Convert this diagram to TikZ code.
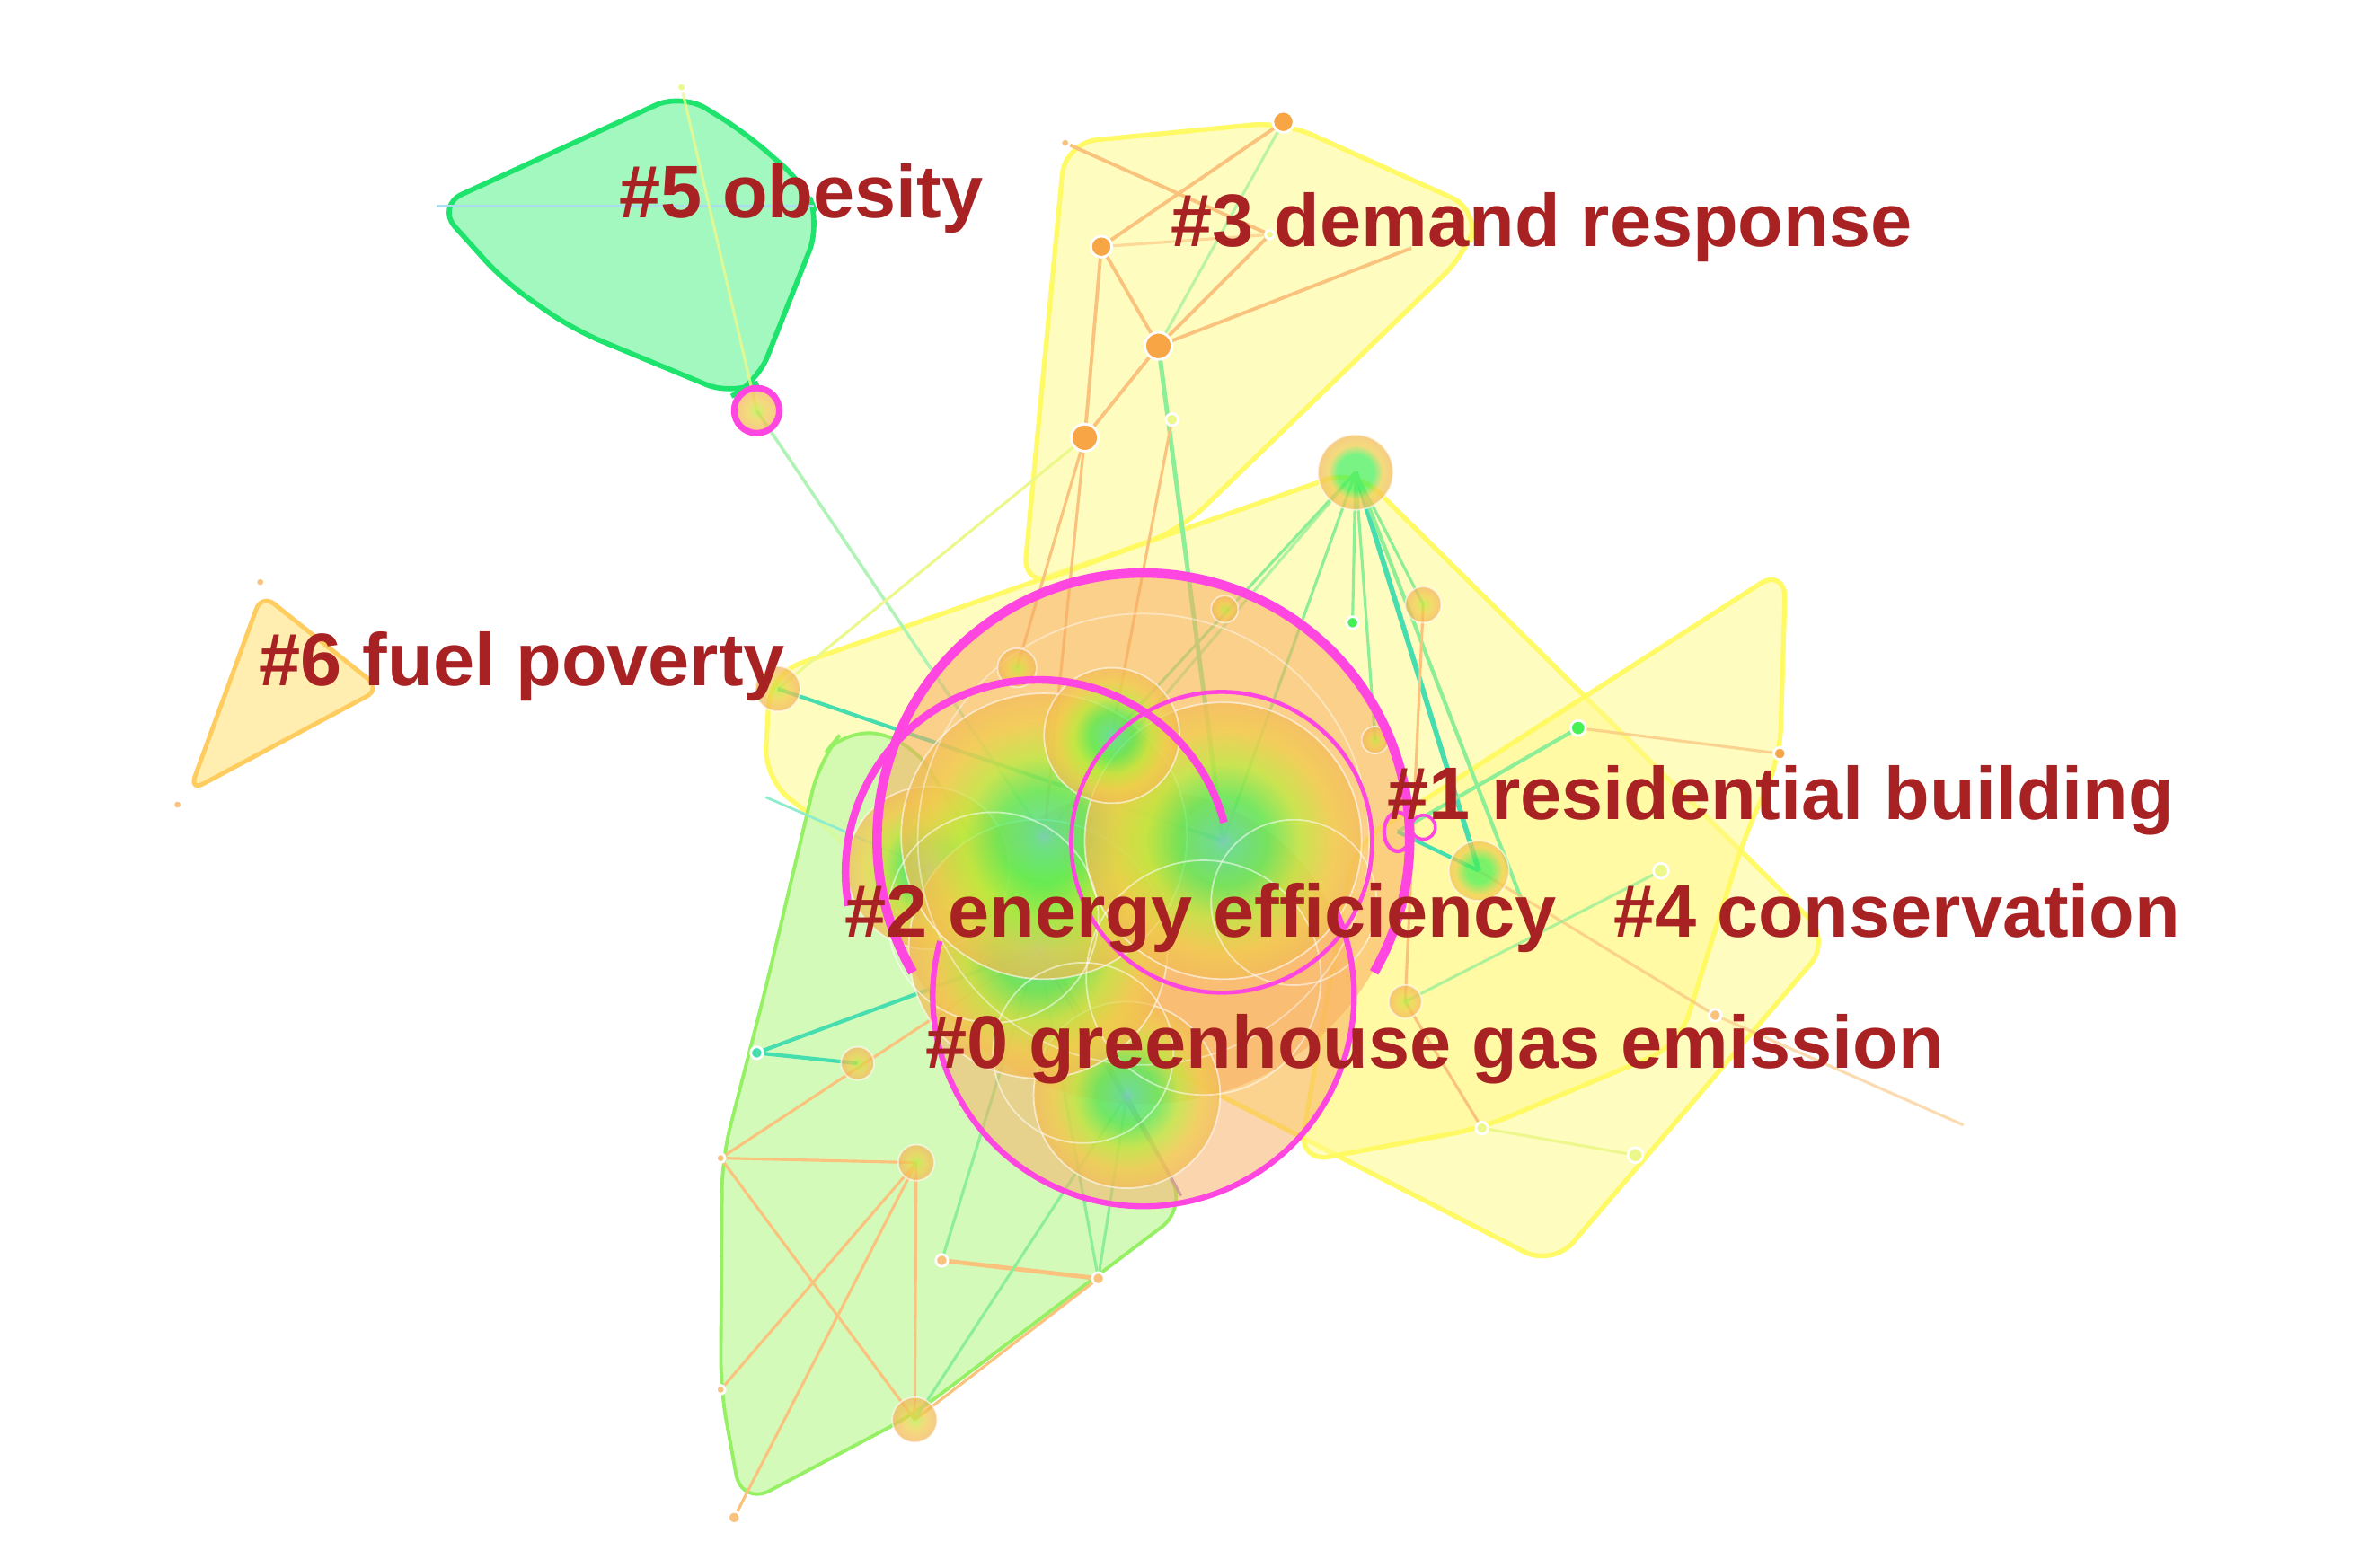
\documentclass[tikz,border=0pt]{standalone}
\usepackage{fontspec}
\setmainfont{Liberation Sans}
\usetikzlibrary{calc}
\definecolor{txtred}{RGB}{168,34,36}
\definecolor{yfillc}{RGB}{255,250,140}
\definecolor{yedgec}{RGB}{255,250,95}
\definecolor{gzfill}{RGB}{205,250,175}
\definecolor{gzedge}{RGB}{150,240,100}
\definecolor{gffill}{RGB}{162,248,190}
\definecolor{gfedge}{RGB}{30,228,110}
\definecolor{sxfill}{RGB}{255,238,175}
\definecolor{sxedge}{RGB}{255,205,95}
\definecolor{magc}{RGB}{255,70,225}
\definecolor{orbase}{RGB}{248,172,95}
\definecolor{lnor}{RGB}{250,195,125}
\definecolor{lngr}{RGB}{140,238,150}
\definecolor{lntl}{RGB}{70,222,175}
\definecolor{lnyl}{RGB}{236,248,140}
\definecolor{lnbl}{RGB}{170,222,236}
\definecolor{lnpu}{RGB}{170,150,205}
\definecolor{rteal}{RGB}{80,215,205}
\definecolor{rteal2}{RGB}{60,232,150}
\definecolor{rgreen}{RGB}{70,240,85}
\definecolor{rygreen}{RGB}{185,236,60}
\definecolor{ryellow}{RGB}{240,205,75}
\definecolor{rorange}{RGB}{245,172,95}
\definecolor{rorange2}{RGB}{248,182,112}
\definecolor{salmon}{RGB}{248,200,165}
\definecolor{ndor}{RGB}{248,165,70}
\pgfdeclareradialshading{cring}{\pgfpoint{0bp}{0bp}}{color(0bp)=(rteal); color(2bp)=(rteal2); color(8bp)=(rgreen); color(14bp)=(rygreen); color(20bp)=(ryellow); color(29bp)=(rorange); color(50bp)=(rorange2)}
\pgfdeclareradialshading{oring}{\pgfpoint{0bp}{0bp}}{color(0bp)=(rygreen); color(12bp)=(ryellow); color(28bp)=(rorange); color(50bp)=(rorange2)}
\pgfdeclareradialshading{gring}{\pgfpoint{0bp}{0bp}}{color(0bp)=(rgreen); color(10bp)=(rgreen); color(20bp)=(ryellow); color(32bp)=(rorange); color(50bp)=(rorange2)}
\pgfdeclareradialshading{bring}{\pgfpoint{0bp}{0bp}}{color(0bp)=(rgreen); color(12bp)=(rgreen); color(18bp)=(ryellow); color(30bp)=(rorange); color(34bp)=(salmon); color(50bp)=(salmon)}
\newcommand\myring[3]{\shade[shading=#3, fill opacity=0.72] (#1) circle (#2);
  \draw[white, line width=0.5pt, opacity=0.6] (#1) circle (#2);}
\newcommand\mydot[3]{\draw[white, line width=0.8pt, fill=#3] (#1) circle (#2);}
\begin{document}
\begin{tikzpicture}[x=0.016747cm,y=-0.016747cm,
  lbl/.style={font=\fontsize{23.6}{28}\selectfont\bfseries, text=txtred, inner sep=0pt, anchor=base west},
  hully/.style={fill=yfillc, fill opacity=0.55, draw=yedgec, draw opacity=0.95, line width=1.5pt, rounded corners=10, line join=round},
  eor/.style={draw=lnor, line width=0.9pt},
  egr/.style={draw=lngr, line width=0.9pt},
  etl/.style={draw=lntl, line width=1.2pt},
  eyl/.style={draw=lnyl, line width=0.9pt}]
\useasboundingbox (0,0) rectangle (1568,1042);
\fill[white] (0,0) rectangle (1568,1042);
% ---------- coordinates
\coordinate (c5) at (503,273);
\coordinate (c5t) at (453,58);
\coordinate (c5l) at (290,137);
\coordinate (c5r) at (541,137);
\coordinate (cfp) at (517,458);
\coordinate (cbig) at (901,314);
\coordinate (cP) at (694,556);
\coordinate (cQ) at (813,559);
\coordinate (cR) at (690,631);
\coordinate (cS) at (749,728);
\coordinate (cT) at (739,489);
\coordinate (cU) at (617,577);
\coordinate (n1) at (676,444);
\coordinate (n2) at (814,405);
\coordinate (n3) at (946,402);
\coordinate (n4) at (914,492);
\coordinate (n5) at (983,579);
\coordinate (n6) at (934,666);
\coordinate (n7) at (570,707);
\coordinate (n8) at (609,773);
\coordinate (n9) at (608,944);
\coordinate (n10) at (503,700);
\coordinate (n11) at (899,414);
\coordinate (n12) at (1049,484);
\coordinate (n13) at (1183,501);
\coordinate (n14) at (1104,579);
\coordinate (n15) at (985,750);
\coordinate (n16) at (1087,768);
\coordinate (n17) at (1140,675);
\coordinate (n18) at (626,838);
\coordinate (n19) at (730,850);
\coordinate (n20) at (479,770);
\coordinate (n21) at (479,924);
\coordinate (n22) at (488,1009);
\coordinate (n23) at (1305,748);
\coordinate (d1) at (853,81);
\coordinate (d2) at (732,164);
\coordinate (d3) at (770,230);
\coordinate (d4) at (721,291);
\coordinate (d5) at (779,279);
\coordinate (d6) at (708,95);
\coordinate (d7) at (844,156);
\coordinate (d8) at (938,165);
\coordinate (t1) at (173,387);
\coordinate (t2) at (118,535);
\coordinate (ml) at (929,553);
\coordinate (e1) at (1012,600);
\coordinate (g0a) at (509,530);
\coordinate (pg) at (785,795);
% ---------- hulls
\path[hully] (512,448) -- (901,312) -- (1217,625) -- (1032,842) -- (620,630) -- (558,557) -- (508,518) -- cycle;
\path[hully] (1187,377) -- (1183,505) -- (1160,555) -- (1116,695) -- (985,750) -- (863,773) -- (900,562) -- cycle;
\path[hully] (708,95) -- (853,81) -- (984,140) -- (975,168) -- (785,352) -- (680,391) -- cycle;
\path[fill=gzfill, fill opacity=0.85, draw=gzedge, line width=1.1pt, rounded corners=10] (562,484) -- (605,492) -- (700,640) -- (789,803) -- (608,940) -- (493,1001) -- (479,924) -- (480,770) -- (509,657) -- (545,505) -- cycle;
\path[fill=sxfill, draw=sxedge, line width=1.4pt, rounded corners=5] (174,395) -- (253,458) -- (126,526) -- cycle;
\path[fill=gffill, draw=gfedge, line width=1.6pt, rounded corners=9] (290,137) -- (453,62) -- (495,88) -- (535,123) -- (545,149) -- (503,255) -- (487,263) -- (381,219) -- (335,187) -- cycle;
% ---------- connectors
\draw[draw=lnbl, line width=1.1pt] (c5l) -- (c5r);
\draw[eyl, opacity=0.8] (c5t) -- (c5);
\draw[draw=lngr!70, line width=1pt] (c5) -- (cP);
\draw[eyl] (cfp) -- (d4);
\draw[etl] (cfp) -- (cQ);
\draw[draw=lntl!60, line width=0.8pt] (g0a) -- (cU);
\draw[eor, line width=1.1pt] (d6) -- (d7);
\draw[eor, line width=1.1pt] (d1) -- (d2);
\draw[eor, line width=1.1pt] (d2) -- (d3);
\draw[eor, line width=1.1pt] (d2) -- (d4);
\draw[eor, line width=1.1pt] (d3) -- (d4);
\draw[eor, line width=1.1pt] (d3) -- (d8);
\draw[eor, line width=1.1pt] (d3) -- (d7);
\draw[eor, opacity=0.6] (d2) -- (d7);
\draw[egr, opacity=0.6] (d1) -- (d3);
\draw[egr, line width=1.4pt] (d3) -- (cQ);
\draw[eor] (d4) -- (n1);
\draw[eor] (d4) -- (cP);
\draw[eor] (d5) -- (cT);
\draw[egr] (cbig) -- (cQ);
\draw[etl, line width=1.6pt] (cbig) -- (n5);
\draw[egr] (cbig) -- (n3);
\draw[egr] (cbig) -- (n4);
\draw[egr] (cbig) -- (n11);
\draw[egr] (cbig) -- (cT);
\draw[egr, line width=1.2pt] (cbig) -- (e1);
\draw[egr, opacity=0.7] (cbig) -- (cP);
\draw[eor] (n3) -- (n6);
\draw[egr, line width=1.2pt] (n12) -- (ml);
\draw[eor, opacity=0.7] (n12) -- (n13);
\draw[etl] (n5) -- (ml);
\draw[eor] (n6) -- (n15);
\draw[eyl] (n15) -- (n16);
\draw[eor, opacity=0.7] (n5) -- (n17);
\draw[eor, opacity=0.6] (n17) -- (n23);
\draw[egr, opacity=0.7] (n6) -- (n14);
\draw[eor] (n20) -- (n8);
\draw[eor] (n20) -- (n9);
\draw[eor] (n22) -- (n8);
\draw[eor] (n21) -- (n8);
\draw[eor] (n8) -- (n9);
\draw[eor, line width=1.4pt] (n18) -- (n19);
\draw[eor] (n20) -- (cR);
\draw[egr] (n9) -- (cS);
\draw[egr] (n19) -- (cS);
\draw[egr] (n19) -- (cR);
\draw[egr] (n18) -- (cR);
\draw[eor] (n9) -- (n19);
\draw[etl] (n10) -- (n7);
\draw[etl] (n10) -- (cR);
\draw[draw=lnpu, line width=0.8pt] (pg) -- (cS);
\draw[draw=lnpu, line width=0.8pt] (pg) -- (cR);
% ---------- central nodes
\fill[orbase, fill opacity=0.55] (760,558) circle (176);
\fill[orbase, fill opacity=0.5] (760,663) circle (138);
\myring{cU}{54}{cring}
\myring{cS}{62}{cring}
\myring{cR}{86}{cring}
\myring{cP}{95}{cring}
\myring{cQ}{92}{cring}
\myring{cT}{45}{cring}
\draw[white, line width=0.5pt, opacity=0.55] (660,610) circle (70);
\draw[white, line width=0.5pt, opacity=0.55] (800,650) circle (78);
\draw[white, line width=0.5pt, opacity=0.55] (860,600) circle (55);
\draw[white, line width=0.5pt, opacity=0.55] (720,700) circle (60);
\draw[white, line width=0.5pt, opacity=0.45] (760,558) circle (150);
% ---------- other nodes
\myring{n1}{13}{oring}
\myring{n2}{9}{oring}
\myring{n3}{12}{oring}
\myring{n4}{9}{oring}
\myring{n5}{20}{gring}
\myring{n6}{11}{oring}
\myring{n7}{11}{oring}
\myring{n8}{12}{oring}
\myring{n9}{15}{oring}
\myring{cfp}{15}{oring}
\myring{cbig}{25}{bring}
\mydot{n10}{4}{lntl}
\mydot{n11}{4}{rgreen}
\mydot{n12}{5}{rgreen}
\mydot{n13}{4}{ndor}
\mydot{n14}{5}{lnyl}
\mydot{n15}{4}{lnyl}
\mydot{n16}{5}{lnyl}
\mydot{n17}{4}{lnor}
\mydot{n18}{4}{lnor}
\mydot{n19}{4}{lnor}
\mydot{n20}{3}{lnor}
\mydot{n21}{3}{lnor}
\mydot{n22}{4}{lnor}
\mydot{d1}{7}{ndor}
\mydot{d2}{7}{ndor}
\mydot{d3}{9}{ndor}
\mydot{d4}{9}{ndor}
\mydot{d5}{4}{lnyl}
\mydot{d6}{3}{lnor}
\mydot{d7}{3}{lnyl}
\mydot{t1}{3}{lnor}
\mydot{t2}{3}{lnor}
\mydot{c5t}{3}{lnyl}
\myring{c5}{14}{oring}
% ---------- burst rings
\draw[magc, line width=3pt] ([shift={(150:177)}]760,558) arc[start angle=150, end angle=390, radius=177];
\draw[magc, line width=2.4pt] ([shift={(170:128)}]690,580) arc[start angle=170, end angle=345, radius=128];
\draw[magc, line width=1.8pt] ([shift={(195:140)}]760,662) arc[start angle=195, end angle=-25, radius=140];
\draw[magc, line width=1.3pt] (812,560) circle (100);
\draw[magc, line width=1.2pt] (ml) ellipse (9 and 13);
\draw[magc, line width=1pt] (946,550) circle (8);
\draw[magc, line width=2pt] (c5) circle (15);
% ---------- labels
\node[lbl] (l5) at (411,145) {\#5 obesity};
\node[lbl] (l3) at (778,164) {\#3 demand response};
\node[lbl] (l6) at (172,456) {\#6 fuel poverty};
\node[lbl] (l1) at (922,545) {\#1 residential building};
\node[lbl] (l2) at (561,623) {\#2 energy efficiency};
\node[lbl] (l4) at (1072,623) {\#4 conservation};
\node[lbl] (l0) at (615,710) {\#0 greenhouse gas emission};
\end{tikzpicture}
\end{document}
